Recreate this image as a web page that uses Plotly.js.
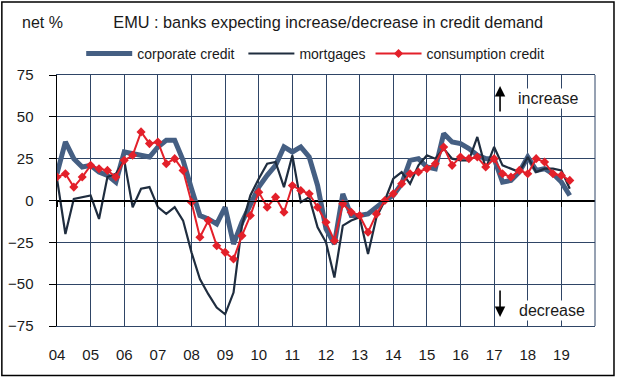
<!DOCTYPE html>
<html>
<head>
<meta charset="utf-8">
<script src="https://cdn.plot.ly/plotly-3.0.1.min.js"></script>
<style>html,body{margin:0;padding:0;background:#fff;}#chart{width:617px;height:378px;}</style>
</head>
<body>
<div id="chart"></div>
<script>
// Quarterly survey, 2004Q1 .. 2019Q2
const startYear = 2004;
const yearTicks = [2004,2005,2006,2007,2008,2009,2010,2011,2012,2013,2014,2015,2016,2017,2018,2019];
const yearLabels = ['04','05','06','07','08','09','10','11','12','13','14','15','16','17','18','19'];

const corporateCredit = [16,35,25,20,21,17,15,11,29,28,27,26,32,36,36,24,7,-9,-11,-14,-4,-26,-13,-2,8,15,21,32,29,32,26,9,-17,-26,4,-9,-9,-8,-4,0,3,10,24,25,20,19,40,35,34,31,27,25,25,11,12,17,26,18,19,16,11,3];
const mortgages = [13,-20,1,2,3,-11,14,16,24,-4,7,8,-4,-8,-4,-12,-31,-47,-56,-64,-68,-55,-15,3,13,22,23,8,27,-1,2,-16,-25,-46,-15,-12,-10,-32,-10,0,13,17,10,21,27,25,31,25,24,24,38,19,32,21,19,17,26,17,19,19,18,7];
const consumptionCredit = [14,16,8,14,21,19,18,14,24,27,41,34,35,22,25,18,-1,-22,-12,-27,-31,-35,-21,-9,5,-4,2,-7,9,6,4,-4,-13,-24,-2,-7,-9,-19,-8,0,4,10,16,17,19,22,32,21,26,25,26,20,25,16,14,18,16,25,23,16,15,12];

const quarterX = corporateCredit.map((_, i) => startYear + i / 4);

const FONT = 'Liberation Sans, Arial, sans-serif';
const GRID = '#2f4566';

const traces = [
  {x: quarterX, y: corporateCredit, name: 'corporate credit\u00a0', type: 'scatter', mode: 'lines',
   line: {color: '#455f83', width: 5}},
  {x: quarterX, y: mortgages, name: 'mortgages', type: 'scatter', mode: 'lines',
   line: {color: '#1f2d3f', width: 2.2}},
  {x: quarterX, y: consumptionCredit, name: 'consumption credit', type: 'scatter', mode: 'lines+markers',
   xaxis: 'x2',
   line: {color: '#e3202a', width: 2}, marker: {symbol: 'diamond', size: 7, color: '#e3202a'}}
];

const layout = {
  width: 617, height: 378,
  margin: {l: 57, r: 22, t: 75, b: 52},
  paper_bgcolor: '#fff', plot_bgcolor: '#fff',
  font: {family: FONT, size: 15, color: '#1a1a1a'},
  showlegend: true,
  legend: {orientation: 'h', x: 0.045, xanchor: 'left', y: 1.084, yanchor: 'middle',
           font: {family: FONT, size: 14, color: '#1a1a1a'}, itemwidth: 46, bgcolor: 'rgba(0,0,0,0)', tracegroupgap: 0},
  title: {text: 'EMU : banks expecting increase/decrease in credit demand', x: 0.532, xanchor: 'center',
          y: 0.942, yanchor: 'middle', font: {family: FONT, size: 16.3, color: '#1a1a1a'}},
  xaxis: {range: [2004, 2020], tickvals: yearTicks, ticktext: yearLabels, ticks: '', ticklabelstandoff: 15,
          showgrid: true, gridcolor: GRID, gridwidth: 1, zeroline: false,
          showline: true, linecolor: GRID, linewidth: 1, mirror: true,
          tickfont: {family: FONT, size: 15, color: '#1a1a1a'}, fixedrange: true},
  xaxis2: {range: [2004, 2020], overlaying: 'x', anchor: 'free', position: 0.5, tickvals: yearTicks,
           showticklabels: false, ticks: 'outside', ticklen: 5, tickcolor: '#000', tickwidth: 1,
           showgrid: false, zeroline: false, showline: true, linecolor: '#000', linewidth: 1.5},
  yaxis: {range: [-75, 75], dtick: 25, tick0: 0, showgrid: true, gridcolor: GRID, gridwidth: 1,
          zeroline: true, zerolinecolor: '#000', zerolinewidth: 1.5,
          showline: true, linecolor: '#000', linewidth: 1.5, ticks: 'outside', ticklen: 7, tickcolor: '#000',
          ticklabelstandoff: 12, tickfont: {family: FONT, size: 15, color: '#1a1a1a'}},
  shapes: [
    {type: 'line', xref: 'paper', yref: 'paper', x0: 1, x1: 1, y0: 0, y1: 1, line: {color: GRID, width: 1}},
    {type: 'rect', xref: 'paper', yref: 'paper', x0: -0.1025, x1: 1.0353, y0: -0.197, y1: 1.291,
     line: {color: '#000', width: 1.5}}
  ],
  annotations: [
    {text: 'net %', xref: 'paper', yref: 'paper', x: -0.068, xanchor: 'left', y: 1.211, yanchor: 'middle',
     showarrow: false, font: {family: FONT, size: 16, color: '#1a1a1a'}},
    {text: 'increase', xref: 'paper', yref: 'paper', x: 0.853, xanchor: 'left', y: 0.908, yanchor: 'middle',
     showarrow: false, bgcolor: '#fff', borderpad: 1, font: {family: FONT, size: 16, color: '#1a1a1a'}},
    {text: 'decrease', xref: 'paper', yref: 'paper', x: 0.855, xanchor: 'left', y: 0.06, yanchor: 'middle',
     showarrow: false, bgcolor: '#fff', borderpad: 1, font: {family: FONT, size: 16, color: '#1a1a1a'}},
    {text: '', xref: 'paper', yref: 'paper', x: 0.8235, y: 0.956, ax: 0, ay: 27, showarrow: true,
     arrowhead: 2, arrowsize: 1.3, arrowwidth: 1.6, arrowcolor: '#000'},
    {text: '', xref: 'paper', yref: 'paper', x: 0.8235, y: 0.036, ax: 0, ay: -28, showarrow: true,
     arrowhead: 2, arrowsize: 1.3, arrowwidth: 1.6, arrowcolor: '#000'}
  ]
};

Plotly.newPlot('chart', traces, layout, {displayModeBar: false, staticPlot: true});
</script>
</body>
</html>
